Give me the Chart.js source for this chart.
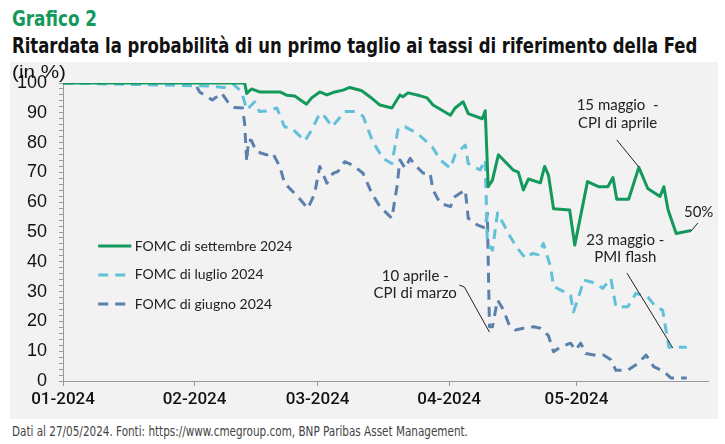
<!DOCTYPE html>
<html lang="it">
<head>
<meta charset="utf-8">
<title>Grafico 2</title>
<script src="https://cdn.jsdelivr.net/npm/chart.js@4.4.1/dist/chart.umd.min.js"></script>
<style>
  html,body{margin:0;padding:0;background:#fff;}
  body{width:725px;height:444px;position:relative;overflow:hidden;font-family:'Liberation Sans Narrow','DejaVu Sans Condensed',sans-serif;}
  .txt{position:absolute;left:12px;white-space:nowrap;transform-origin:left top;}
  #t1{top:6px;font-size:22px;font-weight:bold;color:#12995b;}
  #t2{top:33px;font-size:22px;font-weight:bold;color:#111;}
  #unit{top:61px;font-size:19px;color:#111;font-family:'Liberation Sans',sans-serif;}
  #foot{top:423px;font-size:14px;color:#444;}
  #panel{position:absolute;left:10px;top:62px;width:708px;height:357px;background:#f2f2f2;}
  #c{position:absolute;left:0;top:0;}
</style>
</head>
<body>
<div id="panel"></div>
<div class="txt" id="t1" data-w="85">Grafico 2</div>
<div class="txt" id="t2" data-w="685">Ritardata la probabilità di un primo taglio ai tassi di riferimento della Fed</div>
<div class="txt" id="foot" data-w="456">Dati al 27/05/2024. Fonti: https://www.cmegroup.com, BNP Paribas Asset Management.</div>
<canvas id="c" width="725" height="444"></canvas>
<div class="txt" id="unit" data-w="54">(in %)</div>
<script>
// x = days since 1 Jan 2024, y = probability (%)
const monthTicks = [0, 31, 60, 91, 121];
const monthLabels = ['01-2024','02-2024','03-2024','04-2024','05-2024'];

const setDays = [0,42.8,43.3,44.4,46.3,51.1,52.7,54.6,57.4,58.6,60.5,62.2,64.1,66,67.6,70.4,72.3,74.7,77.5,79.4,80.1,81.3,84.2,85.8,87.2,91.3,92.4,94.3,95.5,98.8,99.5,100.2,101.2,102.6,106.1,107.3,108.5,109.7,112.5,113.5,114.4,115.6,119.4,120.6,123.6,126.2,128.4,129.6,130.5,133.3,135.7,137.8,140.7,141.6,142.6,144.5,148];
const setVals = [100,100,96.5,98,97,97,95.9,95.6,92.9,95,97,96,97,97.6,98.5,97.4,95.4,92.6,91.6,96,95.4,96.7,95.7,95,92.6,89.2,91.6,93.7,89.7,88,90.7,65.2,67.4,75.9,70.8,70.1,64.1,67.8,66.5,72,69.1,57.8,57.4,45.6,66.9,65.2,65.2,68.3,61,61,71.7,64.6,61.9,65.2,57.4,49.5,50.5];

const lugDays = [0,34,38,40,42.1,43.3,45.2,46.3,48,50.4,52.2,53.9,57,58.6,60.5,61.7,63.4,66.4,68.8,70.7,73,75.4,77.5,79,80.6,83.5,87,88.9,91.3,92.4,94.8,95.5,98.3,99.5,100,101.2,102.4,105.4,107.1,109,110.6,112,113.2,114.9,115.6,118,119.6,120.3,122,122.7,125.5,127.2,129.1,130.3,133.1,135,137.8,139.7,141.3,142.8,147];
const lugVals = [100,99,98.5,99.8,97,91,93.7,90.4,90.6,91.6,85.3,84.8,80.6,84.2,89.8,88.7,85.3,90.4,90.4,88.9,80.3,74.7,73,84.8,85.3,83.1,78.6,74.2,71.4,75.9,79.2,73,70.8,74.2,46.2,43.9,56.4,48.4,44.5,41.2,42.8,42.4,46.2,38.3,31.7,30,28.8,23.2,30.4,33.9,32.8,31.1,34.4,24.9,24.9,29.4,28.2,24.9,23.8,11.3,11.3];

const giuDays = [0,31,32.2,33.3,35.2,37.4,38.8,40.4,42.3,42.8,43.3,43.7,44.4,45.6,48,49.4,51.1,52.2,55.3,57.7,59.3,60.5,62.2,63.6,64.8,66.4,68.3,70.7,72.8,74.7,77.5,78.7,79.4,80.6,81.8,83,84.9,86.5,87.2,88.9,91.3,92.4,94.8,95.5,97.6,99.5,100,100.5,101.2,102.4,103.8,105,106.6,108.5,110.9,112.5,114.4,115.6,117.3,119.6,120.8,122,123.2,125.1,127.4,129.1,130.3,133.1,135.5,137.4,139.2,141.6,143.3,147];
const giuVals = [100,100,97,96,94.3,96.6,93.7,91.8,91.6,86.5,73.6,80.9,80.7,77,75.9,76.5,72,66.4,61.9,57.9,62.9,72,66.4,69.7,70.3,73.6,72.4,69.7,62.9,58.5,54.6,65.2,74.2,71.4,74.7,72.4,69.7,69.7,64.1,59.6,58.5,61.9,64.1,54.6,52.4,51.3,56.3,18.2,18.2,27.2,23.8,19.3,17.1,17.7,18.2,17.7,15.2,9.8,11.5,12.7,10.4,12.7,9.2,8.7,8.7,7.1,3.6,3.6,5.9,8.7,4.8,3.2,1,1];

const seriesNames = ['FOMC di settembre 2024','FOMC di luglio 2024','FOMC di giugno 2024'];
const colGreen = '#12995b', colLight = '#62c0da', colDark = '#5b80ad';

// callouts: text lines at [day, value], leader line points [day, value]
const notes = [
  {lines:['15 maggio  -','CPI di aprile'], x:130.7, y:[92.6, 86.4], path:[[130.5,80.9],[135.7,71.8]]},
  {lines:['50%'], x:149.8, y:[56.5], path:[[149.6,53],[148,50.3]]},
  {lines:['23 maggio -','PMI flash'], x:132.5, y:[47.3, 41.4], path:[[132.9,36.2],[143.7,11.1]]},
  {lines:['10 aprile -','CPI di marzo'], x:83, y:[35.2, 29.5], path:[[93.4,32.2],[94.6,31.5],[100.5,16.4]]}
];
const legendRowsY = [45.3, 35.6, 25.8];

const pts = (d, v) => d.map((x, i) => ({x, y: v[i]}));

const calloutPlugin = {
  id: 'callouts',
  afterDatasetsDraw(chart) {
    const {ctx, scales: {x, y}} = chart;
    ctx.save();
    // legend
    const sets = chart.data.datasets;
    legendRowsY.forEach((v, i) => {
      const py = y.getPixelForValue(v);
      ctx.strokeStyle = sets[i].borderColor;
      ctx.lineWidth = 3;
      ctx.setLineDash(sets[i].borderDash || []);
      ctx.beginPath();
      ctx.moveTo(x.getPixelForValue(8.3), py);
      ctx.lineTo(x.getPixelForValue(16.1), py);
      ctx.stroke();
      ctx.setLineDash([]);
      ctx.fillStyle = '#222';
      ctx.font = '14px Lato, sans-serif';
      ctx.textAlign = 'left';
      ctx.textBaseline = 'middle';
      ctx.fillText(seriesNames[i], x.getPixelForValue(16.9), py);
    });
    // notes
    ctx.font = '15px Lato, sans-serif';
    ctx.textAlign = 'center';
    ctx.textBaseline = 'middle';
    ctx.fillStyle = '#222';
    ctx.strokeStyle = '#222';
    ctx.lineWidth = 1;
    notes.forEach(n => {
      n.lines.forEach((t, i) => ctx.fillText(t, x.getPixelForValue(n.x), y.getPixelForValue(n.y[i])));
      ctx.beginPath();
      n.path.forEach(([d, v], i) => {
        const px = x.getPixelForValue(d), py = y.getPixelForValue(v);
        i ? ctx.lineTo(px, py) : ctx.moveTo(px, py);
      });
      ctx.stroke();
    });
    ctx.restore();
  }
};

new Chart(document.getElementById('c'), {
  type: 'line',
  data: {
    datasets: [
      {label: seriesNames[0], data: pts(setDays, setVals), borderColor: colGreen, borderWidth: 3, order: 1},
      {label: seriesNames[1], data: pts(lugDays, lugVals), borderColor: colLight, borderWidth: 3, borderDash: [10, 7], order: 2},
      {label: seriesNames[2], data: pts(giuDays, giuVals), borderColor: colDark, borderWidth: 3, borderDash: [10, 7], order: 3}
    ]
  },
  options: {
    responsive: false,
    animation: false,
    parsing: false,
    elements: {point: {radius: 0}, line: {tension: 0, fill: false, borderCapStyle: 'butt', borderJoinStyle: 'round'}},
    layout: {padding: {top: 83, right: 17, left: 0, bottom: 0}},
    plugins: {legend: {display: false}, tooltip: {enabled: false}},
    scales: {
      x: {
        type: 'linear', min: 0, max: 152,
        afterBuildTicks: (axis) => { axis.ticks = monthTicks.map(v => ({value: v})); },
        afterFit: (axis) => { axis.height = 63; },
        ticks: {
          autoSkip: false, maxRotation: 0, padding: 4, color: '#111',
          font: {family: "Roboto,'Liberation Sans',sans-serif", size: 17, weight: 500},
          callback: (v) => monthLabels[monthTicks.indexOf(v)] ?? ''
        },
        grid: {drawOnChartArea: false, drawTicks: true, tickLength: 5, color: '#9a9a9a'},
        border: {display: true, color: '#9a9a9a', width: 1}
      },
      y: {
        min: 0, max: 100,
        afterFit: (axis) => { axis.width = 63; },
        ticks: {
          stepSize: 2, autoSkip: false, padding: 12, color: '#111',
          font: {family: "'Liberation Sans',Arial,sans-serif", size: 18},
          callback: (v) => v % 10 === 0 ? v : ''
        },
        grid: {drawOnChartArea: false, drawTicks: true, tickLength: 4, color: '#9a9a9a'},
        border: {display: true, color: '#9a9a9a', width: 1}
      }
    }
  },
  plugins: [calloutPlugin]
});

// squeeze text blocks to the widths they have in the reference
document.querySelectorAll('[data-w]').forEach(el => {
  const w = el.getBoundingClientRect().width;
  el.style.transform = `scaleX(${(+el.dataset.w / w).toFixed(3)})`;
});
</script>
</body>
</html>
